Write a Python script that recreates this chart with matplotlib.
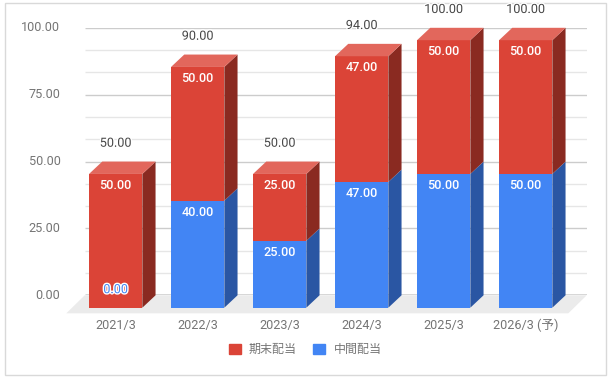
import matplotlib.pyplot as plt
import matplotlib.patheffects as pe
from matplotlib.patches import Patch, Rectangle
from matplotlib.transforms import ScaledTranslation

plt.rcParams['font.family'] = ['Roboto', 'Noto Sans CJK JP', 'DejaVu Sans']

years = ["2021/3", "2022/3", "2023/3", "2024/3", "2025/3", "2026/3 (予)"]
interim = [0, 40, 25, 47, 50, 50]
final = [50, 50, 25, 47, 50, 50]
totals = [50, 90, 50, 94, 100, 100]
major_ticks = [0, 25, 50, 75, 100]
minor_ticks = [8.33, 16.67, 33.33, 41.67, 58.33, 66.67, 83.33, 91.67]

RED, RED_TOP, RED_SIDE = "#db4437", "#e2675c", "#8a2a21"
BLUE, BLUE_SIDE = "#4285f4", "#2a56a3"

W, H = 609, 378
fig = plt.figure(figsize=(W / 100, H / 100), dpi=100)
fig.add_artist(Rectangle((4.5 / W, 1 - 374.5 / H), 601 / W, 372 / H, transform=fig.transFigure,
                         fc="white", ec="#d9d9d9", lw=1, zorder=-1))

ax = fig.add_axes([84.7 / W, 1 - 295.3 / H, 502 / W, 267.5 / H])
ax.patch.set_alpha(0)
ax.set_xlim(-0.378, 5.744)
ax.set_ylim(0, 100)
for s in ax.spines.values():
    s.set_visible(False)

# 3d look, depth in data units
dx = 13.2 / 82
dy = 12.4 / 2.675
width = 0.65

ax.hlines(minor_ticks, -0.378, 5.744, color="#e6e6e6", lw=1, zorder=1)
ax.hlines(major_ticks[1:], -0.378, 5.744, color="#cccccc", lw=1, zorder=1)

# floor
ax.fill([-0.378, 5.744, 5.744 - 0.224, -0.378 - 0.224], [0, 0, -18 / 2.675, -18 / 2.675],
        color="#ebebeb", lw=0, clip_on=False, zorder=1.5)
ax.hlines(0, -0.378, 5.744, color="#333333", lw=1, zorder=1.6)


def side(x, lo, hi, color):
    r = x + width / 2
    ax.fill([r, r + dx, r + dx, r], [lo - dy, lo, hi, hi - dy], color=color, lw=0, clip_on=False, zorder=3)


for i in range(len(years)):
    a, b = interim[i], interim[i] + final[i]
    l, r = i - width / 2, i + width / 2
    ax.bar(i, a, width, bottom=-dy, color=BLUE, zorder=3, clip_on=False)
    ax.bar(i, final[i], width, bottom=a - dy, color=RED, zorder=3, clip_on=False)
    if a > 0:
        side(i, 0, a, BLUE_SIDE)
    side(i, a, b, RED_SIDE)
    ax.fill([l, r, r + dx, l + dx], [b - dy, b - dy, b, b], color=RED_TOP, lw=0, clip_on=False, zorder=3)

    # labels
    ax.annotate(f"{final[i]:.2f}", (i, b - dy), xytext=(0, -8.2), textcoords="offset points",
                ha="center", va="center", color="white", fontsize=9.1, fontweight="medium",
                zorder=5, annotation_clip=False)
    if a > 0:
        ax.annotate(f"{a:.2f}", (i, a - dy), xytext=(0, -8.2), textcoords="offset points",
                    ha="center", va="center", color="white", fontsize=9.1, fontweight="medium",
                    zorder=5, annotation_clip=False)
    else:
        ax.annotate(f"{a:.2f}", (i, -dy), xytext=(0, 13), textcoords="offset points",
                    ha="center", va="center", color=BLUE, fontsize=9.1, zorder=5, annotation_clip=False,
                    path_effects=[pe.withStroke(linewidth=2, foreground="white")])
    ax.annotate(f"{totals[i]:.2f}", (i, b), xytext=(0, 13.2), textcoords="offset points",
                ha="center", va="center", color="#474747", fontsize=9.1, zorder=5, annotation_clip=False,
                path_effects=[pe.withStroke(linewidth=2, foreground="white")])

ax.set_yticks(major_ticks)
ax.set_yticklabels([f"{v:.2f}" for v in major_ticks], color="#757575", fontsize=9.1)
ax.set_xticks(range(len(years)))
ax.set_xticklabels(years, color="#757575", fontsize=9.1, va="baseline")
ax.tick_params(axis="y", length=0, pad=17.5)
ax.tick_params(axis="x", length=0, pad=24.3)

# y labels sit a bit above their grid lines
for lab in ax.get_yticklabels():
    lab.set_transform(lab.get_transform() + ScaledTranslation(0, 1.5 / 100, fig.dpi_scale_trans))

handles = [Patch(color=RED, label="期末配当"), Patch(color=BLUE, label="中間配当")]
fig.legend(handles=handles, ncol=2, frameon=False, loc="center", bbox_to_anchor=(305 / W, 1 - 349.5 / H),
           fontsize=8.64, labelcolor="#757575", handlelength=1, handleheight=1, handletextpad=0.7,
           columnspacing=1.35, borderpad=0, borderaxespad=0)

fig.savefig("out.png", dpi=100)
